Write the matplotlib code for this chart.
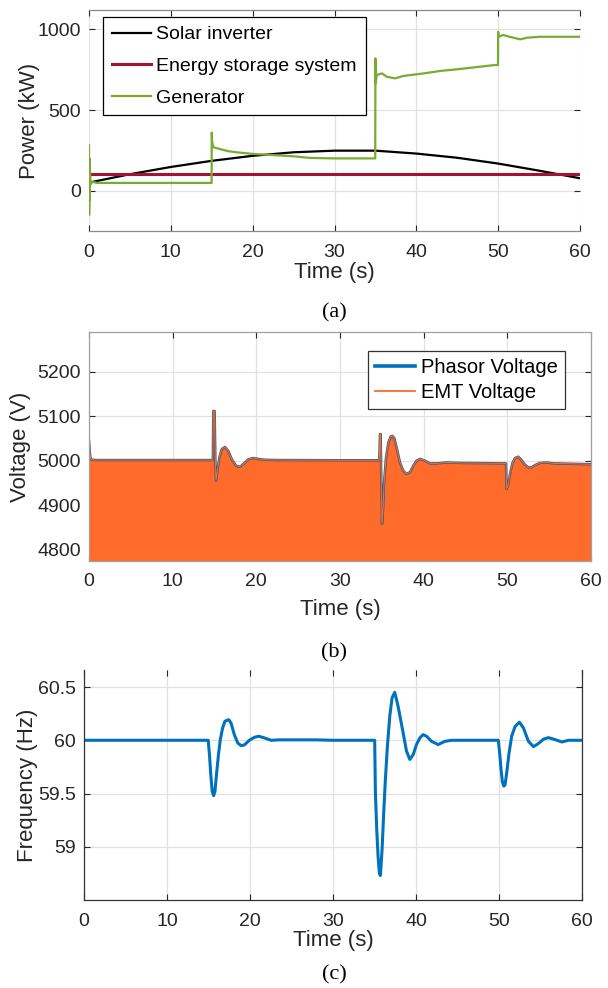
import matplotlib
matplotlib.use('Agg')
import matplotlib.pyplot as plt

# ---- (a) power ----
t_solar = [0, 5, 10, 15, 20, 25, 30, 35, 40, 45, 50, 55, 60]
p_solar = [50, 102, 147, 185, 216, 238, 248, 248, 230, 204, 168, 124, 77]

t_ess = [0, 60]
p_ess = [101, 101]

t_gen = [0, 0.02, 0.05, 0.08, 0.12, 0.2, 0.4, 1, 14.98, 15.0, 15.05, 15.2, 15.5, 16, 17, 18,
         20, 22, 25, 27, 30, 34.98, 35.0, 35.05, 35.15, 35.8, 36.4, 37.4, 38.4, 40.9, 42.9,
         44.9, 47, 49.6, 49.98, 50.0, 50.05, 50.6, 51.4, 52.7, 53.5, 55.1, 60]
p_gen = [280, -150, 200, -60, 120, 40, 55, 48, 48, 360, 300, 270, 265, 258, 245, 238,
         228, 222, 213, 203, 200, 200, 820, 665, 717, 727, 706, 696, 711, 727, 742,
         752, 764, 779, 779, 985, 954, 965, 954, 938, 948, 954, 954]

# ---- (b) voltage ----
t_volt = [0, 0.05, 0.15, 0.3, 1, 14.8, 14.86, 15.02, 15.1, 15.18, 15.34, 15.58, 15.86,
          16.25, 16.65, 17.05, 17.57, 18.05, 18.53, 19.04, 19.64, 20.24, 21.03, 22.43, 30,
          34.7, 34.78, 34.86, 34.9, 35.02, 35.14, 35.26, 35.5, 35.78, 36.05, 36.25, 36.49,
          36.77, 37.17, 37.57, 37.97, 38.36, 38.76, 39.16, 39.56, 40.16, 40.76, 41.55, 42.75,
          44.34, 49.84, 49.92, 50.08, 50.32, 50.6, 50.91, 51.31, 51.71, 52.11, 52.51, 52.91,
          53.3, 53.9, 54.7, 55.5, 60]
v_phasor = [5045, 5030, 5008, 5002, 5001.5, 5001.5, 5112, 5112, 5001, 4955, 4977, 5007, 5026,
            5031, 5022, 5004, 4989, 4986, 4994, 5003, 5006, 5004, 5002, 5001.5, 5001,
            5001, 5060, 5060, 5001, 4858, 4888, 4948, 5007, 5041, 5054, 5056, 5051,
            5030, 4996, 4977, 4970, 4974, 4989, 5000, 5004, 5000, 4994, 4994, 4996,
            4995, 4994, 4936, 4944, 4970, 4994, 5006, 5009, 5001, 4991, 4985, 4985,
            4990, 4995, 4996, 4994, 4992]
# EMT envelope: start-up spike at t=0, then follows the phasor magnitude
t_emt_start = [0, 0.03]
v_emt_start = [5300, 5300]
t_emt = t_emt_start + t_volt[1:]
v_emt = v_emt_start + v_phasor[1:]

# ---- (c) frequency ----
t_freq = [0, 14.97, 15.13, 15.29, 15.45, 15.62, 15.78, 15.94, 16.18, 16.42, 16.70, 16.98,
          17.43, 17.71, 18.11, 18.52, 18.92, 19.32, 19.92, 20.53, 21.05, 21.74, 22.54, 23.5,
          28, 30, 35.02, 35.11, 35.27, 35.43, 35.59, 35.71, 35.91, 36.11, 36.31, 36.55,
          36.84, 37.12, 37.44, 37.84, 38.45, 38.85, 39.25, 39.66, 40.06, 40.46, 40.86,
          41.27, 41.87, 42.68, 43.48, 44.29, 49.92, 50.08, 50.25, 50.41, 50.57, 50.73,
          50.97, 51.21, 51.53, 51.94, 52.46, 52.94, 53.55, 54.15, 54.76, 55.36, 55.96,
          56.77, 57.57, 58.38, 60]
f_val = [60, 60, 59.85, 59.66, 59.52, 59.48, 59.52, 59.66, 59.85, 60.006, 60.116, 60.179,
         60.194, 60.163, 60.053, 59.975, 59.95, 59.956, 60.0, 60.028, 60.038, 60.022, 60.0, 60.004,
         60.004, 60.0, 60.0, 59.505, 59.16, 58.91, 58.75, 58.73, 58.97, 59.32, 59.63, 59.94,
         60.226, 60.40, 60.45, 60.32, 60.07, 59.90, 59.82, 59.865, 59.96, 60.022, 60.053,
         60.038, 59.99, 59.96, 59.99, 60.0, 60.0, 59.88, 59.72, 59.61, 59.57, 59.58,
         59.72, 59.88, 60.04, 60.13, 60.17, 60.116, 59.99, 59.94, 59.97, 60.01, 60.025,
         60.006, 59.984, 60.0, 60.0]

x_ticks = [0, 10, 20, 30, 40, 50, 60]
p_ticks = [0, 500, 1000]
v_ticks = [4800, 4900, 5000, 5100, 5200]
f_ticks = [59, 59.5, 60, 60.5]
f_tick_labels = ['59', '59.5', '60', '60.5']

plt.rcParams['font.family'] = ['Liberation Sans', 'DejaVu Sans']
TXT = '#262626'
W, H = 608, 988


def px_axes(left, right, top, bottom):
    return [left / W, 1 - bottom / H, (right - left) / W, (bottom - top) / H]


def matlab_style(ax, spine_col, hide=()):
    ax.set_xlim(0, 60)
    ax.set_xticks(x_ticks)
    ax.grid(True, color='#e2e2e2', linewidth=0.9)
    ax.set_axisbelow(True)
    ax.tick_params(direction='in', top=True, right=True, length=4, width=0.8,
                   labelsize=14, colors=TXT, pad=6)
    ax.tick_params(axis='x', pad=9)
    for name, sp in ax.spines.items():
        sp.set_color(spine_col)
        sp.set_linewidth(0.9)
        if name in hide:
            sp.set_visible(False)


fig = plt.figure(figsize=(6.08, 9.88), dpi=100)

# (a)
ax1 = fig.add_axes(px_axes(89, 580, 10, 231))
ax1.plot(t_solar, p_solar, color='black', lw=1.6, label='Solar inverter')
ax1.plot(t_ess, p_ess, color='#A2142F', lw=2.2, label='Energy storage system')
ax1.plot(t_gen, p_gen, color='#77AC30', lw=1.6, label='Generator')
ax1.set_ylim(-250, 1120)
ax1.set_yticks(p_ticks)
matlab_style(ax1, '#8a8a8a', hide=('left', 'right'))
ax1.set_xlabel('Time (s)', fontsize=16, color=TXT, va='center')
ax1.xaxis.set_label_coords(0.5, -41 / 221)
ax1.set_ylabel('Power (kW)', fontsize=16, color=TXT, va='center')
ax1.yaxis.set_label_coords(-60 / 491, 0.5)
leg1 = ax1.legend(loc='upper left', bbox_to_anchor=(14 / 491, 1 - 7 / 221), borderaxespad=0,
                  fontsize=14, fancybox=False, framealpha=1, edgecolor='black',
                  handlelength=2.0, handletextpad=0.3, labelspacing=0.72, borderpad=0.45)
leg1.get_frame().set_linewidth(0.9)

# (b)
ax2 = fig.add_axes(px_axes(89, 591, 332, 561))
ax2.plot(t_volt, v_phasor, color='#1f5f8f', lw=1.8, label='Phasor Voltage')
ax2.plot(t_emt, v_emt, color='#FF6B2B', lw=0.8, label='EMT Voltage')
ax2.fill_between(t_emt, 4700, v_emt, color='#FF6B2B', lw=0)
ax2.set_ylim(4774, 5290)
ax2.set_yticks(v_ticks)
matlab_style(ax2, '#a0a0a0')
ax2.set_xlabel('Time (s)', fontsize=16, color=TXT, va='center')
ax2.xaxis.set_label_coords(0.5, -49 / 229)
ax2.set_ylabel('Voltage (V)', fontsize=16, color=TXT, va='center')
ax2.yaxis.set_label_coords(-68 / 502, 0.5)
leg2 = ax2.legend(loc='upper right', bbox_to_anchor=(476 / 502, 1 - 19 / 229), borderaxespad=0,
                  fontsize=14.5, fancybox=False, framealpha=1, edgecolor='#333333',
                  handlelength=2.0, handletextpad=0.3, labelspacing=0.3, borderpad=0.35)
leg2.get_frame().set_linewidth(0.9)
leg2.get_lines()[0].set_color('#0072BD')
leg2.get_lines()[0].set_linewidth(2.6)
leg2.get_lines()[1].set_linewidth(1.3)

# (c)
ax3 = fig.add_axes(px_axes(84, 582, 670, 900))
ax3.plot(t_freq, f_val, color='#0072BD', lw=2.2)
ax3.set_ylim(58.5, 60.66)
ax3.set_yticks(f_ticks)
ax3.set_yticklabels(f_tick_labels)
matlab_style(ax3, '#333333', hide=('top',))
ax3.set_xlabel('Time (s)', fontsize=16, color=TXT, va='center')
ax3.xaxis.set_label_coords(0.5, -40 / 230)
ax3.set_ylabel('Frequency (Hz)', fontsize=16, color=TXT, va='center')
ax3.yaxis.set_label_coords(-57 / 498, 0.5)

# captions
for lab, y in [('(a)', 313), ('(b)', 653), ('(c)', 975)]:
    fig.text(334 / W, 1 - y / H, lab, ha='center', va='center', fontsize=16,
             family='Liberation Serif', color='black')

fig.savefig('out.png', dpi=100)
